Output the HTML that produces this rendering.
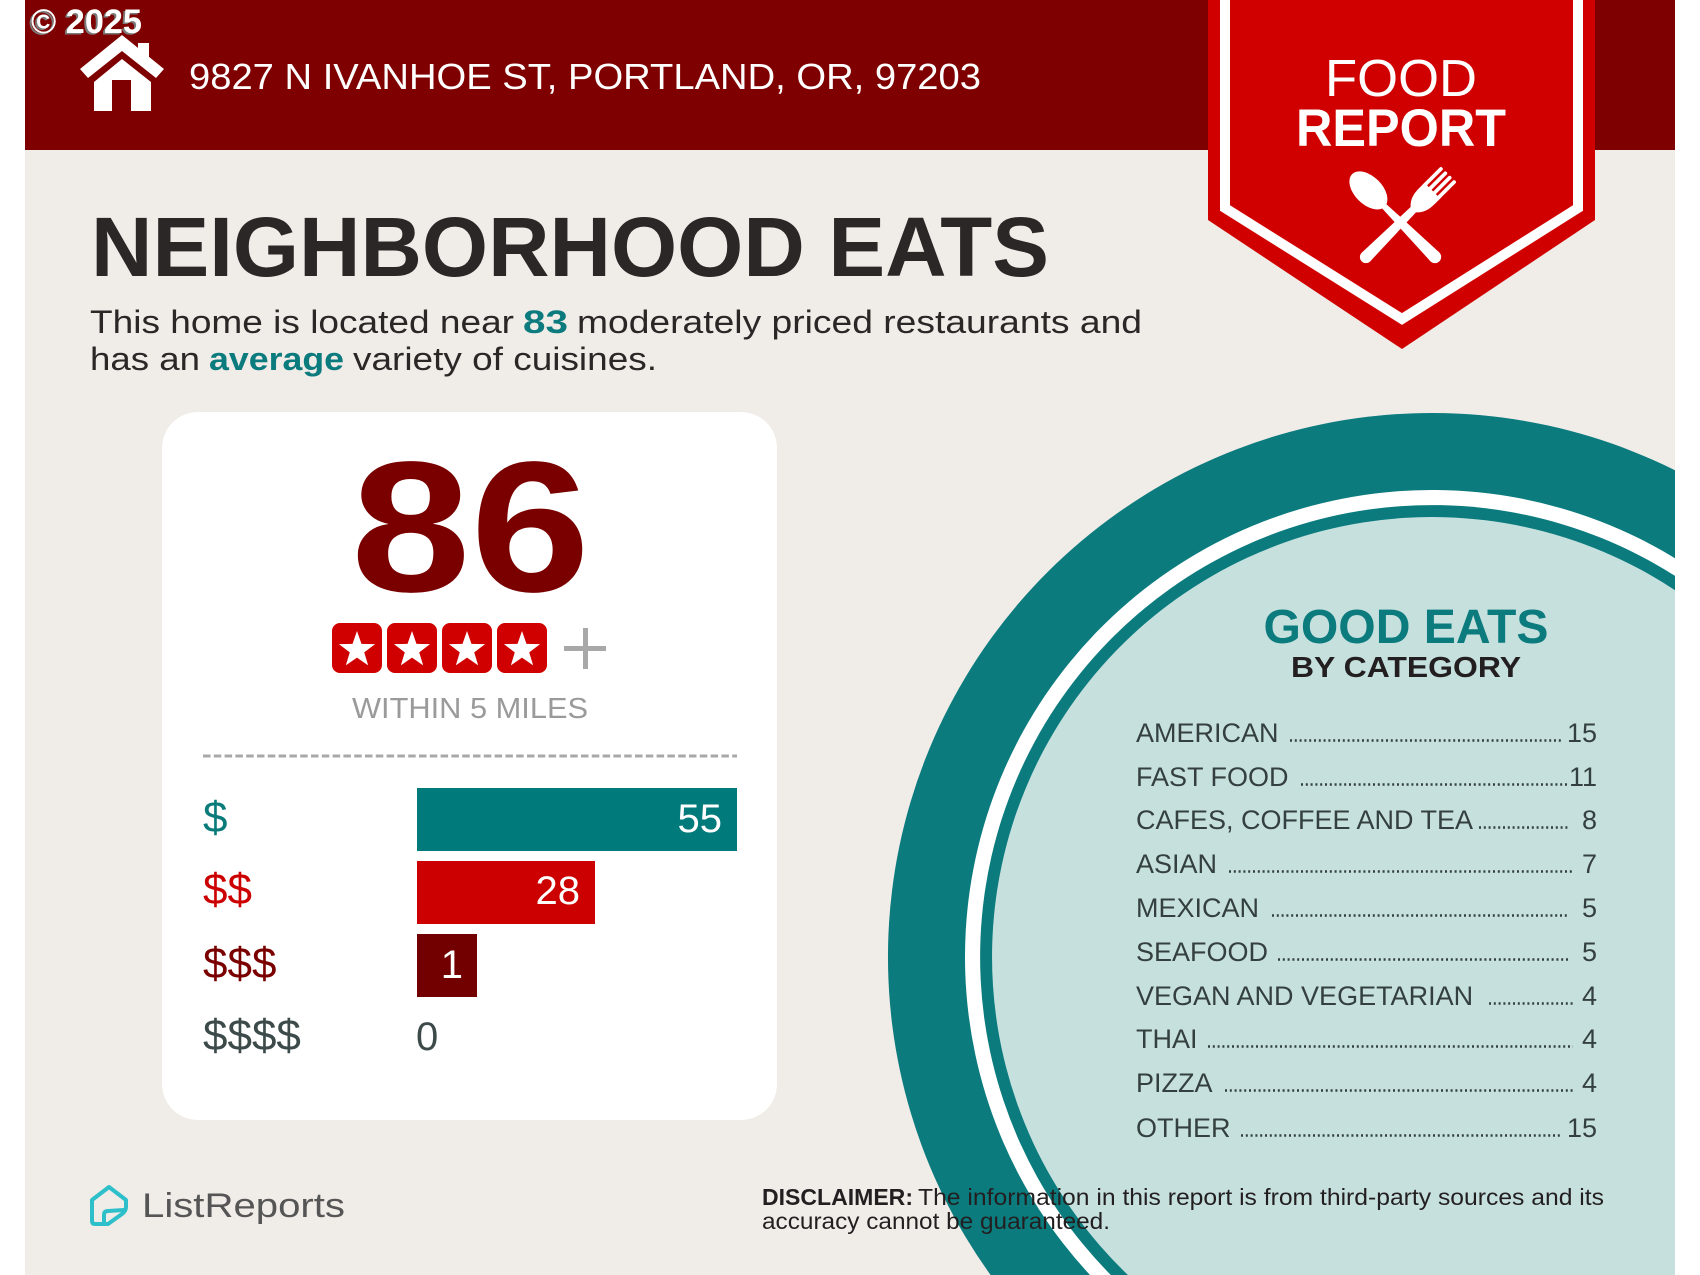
<!DOCTYPE html>
<html>
<head>
<meta charset="utf-8">
<style>
  html, body { margin: 0; padding: 0; background: #ffffff; width: 1700px; height: 1275px; overflow: hidden; }
  svg { display: block; }
  text { font-family: "Liberation Sans", "DejaVu Sans", sans-serif; }
</style>
</head>
<body>
<svg width="1700" height="1275" viewBox="0 0 1700 1275" xmlns="http://www.w3.org/2000/svg">
  <defs>
    <polygon id="star" points="0,-19 4.47,-6.15 18.07,-5.87 7.23,2.35 11.17,15.37 0,7.6 -11.17,15.37 -7.23,2.35 -18.07,-5.87 -4.47,-6.15"/>
  </defs>

  <!-- page background -->
  <rect x="0" y="0" width="1700" height="1275" fill="#ffffff"/>
  <rect x="25" y="0" width="1650" height="1275" fill="#f0ece8"/>

  <!-- big teal circle (trimmed to frame) -->
  <path d="M990.6,1275 A544,544 0 0 1 1675,470.3 L1675,1275 Z" fill="#0b7b7e"/>
  <path d="M1090,1275 A467,467 0 0 1 1675,558.2 L1675,1275 Z" fill="#ffffff"/>
  <path d="M1110.8,1275 A452,452 0 0 1 1675,575.9 L1675,1275 Z" fill="#0b7b7e"/>
  <path d="M1127.9,1275 A440,440 0 0 1 1675,590.2 L1675,1275 Z" fill="#c6e0de"/>

  <!-- header bar -->
  <rect x="25" y="0" width="1650" height="150" fill="#7f0000"/>

  <!-- copyright -->
  <text x="29" y="34.5" font-size="34" font-weight="bold" fill="#7a7a7a" textLength="111" lengthAdjust="spacingAndGlyphs">© 2025</text>
  <text x="31" y="33" font-size="34" font-weight="bold" fill="#ffffff" textLength="111" lengthAdjust="spacingAndGlyphs">© 2025</text>

  <!-- house icon -->
  <g fill="#ffffff">
    <rect x="138" y="43" width="11" height="20"/>
    <polygon points="80,69 122,35 164,69 156,78 122,51 88,78"/>
    <path fill-rule="evenodd" d="M94,111 L94,82 L122,59 L151,82 L151,111 Z M112,111 L112,80 L131,80 L131,111 Z"/>
  </g>

  <!-- address -->
  <text x="189" y="89" font-size="36" fill="#ffffff" textLength="792" lengthAdjust="spacingAndGlyphs">9827 N IVANHOE ST, PORTLAND, OR, 97203</text>

  <!-- food report badge -->
  <polygon points="1208,0 1595,0 1595,220 1402,349 1208,220" fill="#d00000"/>
  <polyline points="1225,0 1225,208 1402,319 1578,208 1578,0" fill="none" stroke="#ffffff" stroke-width="10" stroke-linejoin="miter"/>
  <text x="1401" y="96" font-size="52" fill="#ffffff" text-anchor="middle" textLength="152" lengthAdjust="spacingAndGlyphs">FOOD</text>
  <text x="1401" y="146" font-size="53" font-weight="bold" fill="#ffffff" text-anchor="middle" textLength="210" lengthAdjust="spacingAndGlyphs">REPORT</text>

  <!-- fork -->
  <g transform="translate(1362,261) rotate(45) scale(0.93)" fill="#ffffff">
    <circle cx="0" cy="-6" r="6.5"/>
    <polygon points="-6.5,-6 6.5,-6 4,-80 -4,-80"/>
    <path d="M-4,-78 C-11,-84 -12,-92 -12,-100 L-12,-107 L12,-107 L12,-100 C12,-92 11,-84 4,-78 Z"/>
    <rect x="-12" y="-132" width="4" height="28" rx="2"/>
    <rect x="-5.3" y="-132" width="4" height="28" rx="2"/>
    <rect x="1.3" y="-132" width="4" height="28" rx="2"/>
    <rect x="8" y="-132" width="4" height="28" rx="2"/>
  </g>
  <!-- spoon -->
  <g transform="translate(1439,261) rotate(-45) scale(0.96)" fill="#ffffff">
    <circle cx="0" cy="-6" r="6.5"/>
    <polygon points="-6.5,-6 6.5,-6 3,-84 -3,-84"/>
    <ellipse cx="0" cy="-104" rx="14.5" ry="24"/>
  </g>

  <!-- headline -->
  <text x="91" y="276" font-size="84" font-weight="bold" fill="#2b2727" textLength="958" lengthAdjust="spacingAndGlyphs">NEIGHBORHOOD EATS</text>

  <!-- subtitle -->
  <g font-size="32" fill="#2b2727">
    <text x="90" y="333" textLength="424" lengthAdjust="spacingAndGlyphs">This home is located near</text>
    <text x="523" y="333" font-weight="bold" fill="#0b7b7e" textLength="45" lengthAdjust="spacingAndGlyphs">83</text>
    <text x="577" y="333" textLength="565" lengthAdjust="spacingAndGlyphs">moderately priced restaurants and</text>
    <text x="90" y="370" textLength="110" lengthAdjust="spacingAndGlyphs">has an</text>
    <text x="209" y="370" font-weight="bold" fill="#0b7b7e" textLength="135" lengthAdjust="spacingAndGlyphs">average</text>
    <text x="353" y="370" textLength="304" lengthAdjust="spacingAndGlyphs">variety of cuisines.</text>
  </g>

  <!-- score card -->
  <rect x="162" y="412" width="615" height="708" rx="36" ry="36" fill="#ffffff"/>
  <text x="351" y="591" font-size="186" font-weight="bold" fill="#7a0000" textLength="239" lengthAdjust="spacingAndGlyphs">86</text>

  <!-- stars -->
  <g>
    <rect x="332" y="623" width="50" height="50" rx="8" fill="#d00000"/>
    <rect x="387" y="623" width="50" height="50" rx="8" fill="#d00000"/>
    <rect x="442" y="623" width="50" height="50" rx="8" fill="#d00000"/>
    <rect x="497" y="623" width="50" height="50" rx="8" fill="#d00000"/>
    <use href="#star" x="357" y="650" fill="#ffffff"/>
    <use href="#star" x="412" y="650" fill="#ffffff"/>
    <use href="#star" x="467" y="650" fill="#ffffff"/>
    <use href="#star" x="522" y="650" fill="#ffffff"/>
  </g>
  <rect x="583" y="628" width="5" height="41" fill="#a8a8a8"/>
  <rect x="564" y="646" width="42" height="5" fill="#a8a8a8"/>

  <text x="352" y="718" font-size="29" fill="#9a9a9a" textLength="236" lengthAdjust="spacingAndGlyphs">WITHIN 5 MILES</text>

  <line x1="203" y1="756" x2="737" y2="756" stroke="#a8a8a8" stroke-width="3" stroke-dasharray="7.5 3.3"/>

  <!-- price bars -->
  <rect x="417" y="788" width="320" height="63" fill="#007a7a"/>
  <rect x="417" y="861" width="178" height="63" fill="#cc0000"/>
  <rect x="417" y="934" width="60" height="63" fill="#720000"/>

  <g font-size="40" fill="#ffffff" text-anchor="end">
    <text x="722" y="832">55</text>
    <text x="580" y="904">28</text>
    <text x="463" y="978">1</text>
  </g>
  <text x="416" y="1050" font-size="40" fill="#3d4a4a">0</text>

  <g font-size="44">
    <text x="203" y="832" fill="#0a7b7b">$</text>
    <text x="203" y="904" fill="#cc0000">$$</text>
    <text x="203" y="978" fill="#7a0000">$$$</text>
    <text x="203" y="1050" fill="#3d4a4a">$$$$</text>
  </g>

  <!-- good eats heading -->
  <text x="1406" y="643" font-size="48" font-weight="bold" fill="#0b7b7e" text-anchor="middle" textLength="285" lengthAdjust="spacingAndGlyphs">GOOD EATS</text>
  <text x="1406" y="677" font-size="29" font-weight="bold" fill="#231f20" text-anchor="middle" textLength="230" lengthAdjust="spacingAndGlyphs">BY CATEGORY</text>

  <!-- category list -->
  <g font-size="27" fill="#34403f">
    <text x="1136" y="742">AMERICAN</text>
    <text x="1136" y="786">FAST FOOD</text>
    <text x="1136" y="829">CAFES, COFFEE AND TEA</text>
    <text x="1136" y="873">ASIAN</text>
    <text x="1136" y="917">MEXICAN</text>
    <text x="1136" y="961">SEAFOOD</text>
    <text x="1136" y="1005">VEGAN AND VEGETARIAN</text>
    <text x="1136" y="1048">THAI</text>
    <text x="1136" y="1092">PIZZA</text>
    <text x="1136" y="1137">OTHER</text>
  </g>
  <g font-size="27" fill="#34403f" text-anchor="end">
    <text x="1597" y="742">15</text>
    <text x="1597" y="786">11</text>
    <text x="1597" y="829">8</text>
    <text x="1597" y="873">7</text>
    <text x="1597" y="917">5</text>
    <text x="1597" y="961">5</text>
    <text x="1597" y="1005">4</text>
    <text x="1597" y="1048">4</text>
    <text x="1597" y="1092">4</text>
    <text x="1597" y="1137">15</text>
  </g>
  <g stroke="#34403f" stroke-width="2.4" stroke-dasharray="2 2.8">
    <line x1="1290" y1="740.5" x2="1562" y2="740.5"/>
    <line x1="1301" y1="784.5" x2="1568" y2="784.5"/>
    <line x1="1479" y1="827.5" x2="1569" y2="827.5"/>
    <line x1="1229" y1="871.5" x2="1574" y2="871.5"/>
    <line x1="1272" y1="915.5" x2="1569" y2="915.5"/>
    <line x1="1278" y1="959.5" x2="1569" y2="959.5"/>
    <line x1="1489" y1="1003.5" x2="1573" y2="1003.5"/>
    <line x1="1208" y1="1046.5" x2="1573" y2="1046.5"/>
    <line x1="1225" y1="1090.5" x2="1573" y2="1090.5"/>
    <line x1="1241" y1="1135.5" x2="1562" y2="1135.5"/>
  </g>

  <!-- ListReports logo -->
  <g fill="none" stroke="#2dbfca" stroke-width="4" stroke-linejoin="round" stroke-linecap="round">
    <path d="M104,1224 L95,1224 Q92,1224 92,1221 L92,1200 L109,1187 L126,1200 L126,1207 Q126,1211 122,1214 L108,1224 Z"/>
    <path d="M104,1223 L104,1215 Q104,1211 108,1211 L124,1210"/>
  </g>
  <text x="142" y="1217" font-size="34" fill="#555555" textLength="203" lengthAdjust="spacingAndGlyphs">ListReports</text>

  <!-- disclaimer -->
  <g font-size="23" fill="#231f20">
    <text x="762" y="1205" font-weight="bold" textLength="151" lengthAdjust="spacingAndGlyphs">DISCLAIMER:</text>
    <text x="918" y="1205" textLength="686" lengthAdjust="spacingAndGlyphs">The information in this report is from third-party sources and its</text>
    <text x="762" y="1229" textLength="348" lengthAdjust="spacingAndGlyphs">accuracy cannot be guaranteed.</text>
  </g>
</svg>
</body>
</html>
